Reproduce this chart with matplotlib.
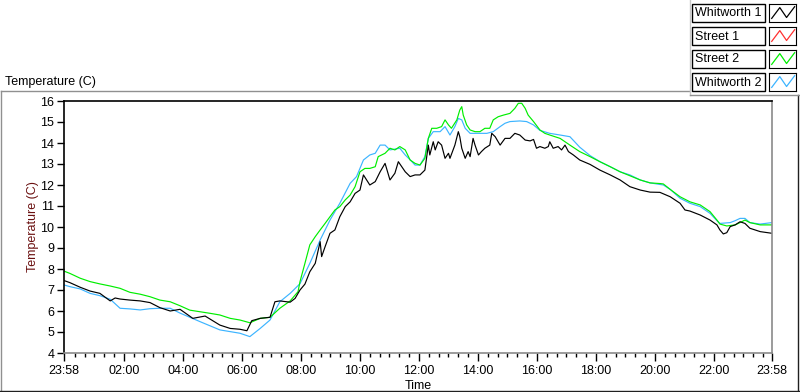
import matplotlib
matplotlib.use("Agg")
import matplotlib.pyplot as plt
from matplotlib.lines import Line2D
import numpy as np

# ---- data (minutes elapsed since 23:58, temperature in C) ----
w1_t = [0, 12, 33, 53, 73, 94, 104, 114, 134, 155, 175, 195, 216, 236, 256, 262, 287, 317, 338, 358,
        372, 382, 399, 419, 429, 439, 460, 470, 480, 490, 500, 511, 521, 524, 531, 541, 551, 561, 572,
        582, 592, 602, 609, 622, 633, 643, 653, 663, 673, 680, 694, 704, 714, 724, 734, 741, 744, 751,
        755, 761, 768, 775, 782, 785, 795, 802, 805, 809, 816, 822, 826, 832, 836, 843, 849, 856, 866,
        870, 877, 887, 897, 907, 917, 927, 938, 948, 955, 961, 968, 978, 985, 988, 995, 1005, 1012,
        1019, 1026, 1036, 1049, 1070, 1090, 1111, 1131, 1141, 1151, 1172, 1192, 1212, 1233, 1253, 1263,
        1273, 1294, 1314, 1328, 1334, 1341, 1348, 1355, 1365, 1375, 1385, 1395, 1416, 1440]
w1_v = [7.45, 7.35, 7.13, 6.95, 6.84, 6.48, 6.62, 6.57, 6.52, 6.48, 6.40, 6.16, 6.0, 6.08, 5.75, 5.65,
        5.76, 5.33, 5.17, 5.13, 5.06, 5.54, 5.65, 5.7, 6.44, 6.48, 6.42, 6.6, 7.0, 7.28, 7.87, 8.27, 9.3,
        8.59, 9.06, 9.7, 9.86, 10.49, 10.97, 11.2, 11.6, 11.76, 12.48, 12.0, 12.16, 12.63, 13.03, 12.24,
        12.56, 13.11, 12.63, 12.4, 12.48, 12.48, 12.71, 13.9, 13.43, 14.06, 13.67, 14.06, 13.9, 13.27,
        13.51, 13.27, 13.9, 14.54, 14.3, 13.75, 13.27, 13.59, 13.35, 14.22, 13.9, 13.43, 13.59, 13.75,
        13.9, 14.46, 14.3, 13.9, 14.22, 14.22, 14.46, 14.38, 14.14, 14.1, 14.17, 13.75, 13.83, 13.75,
        13.83, 14.06, 13.75, 13.83, 13.67, 13.9, 13.59, 13.43, 13.19, 12.98, 12.71, 12.48, 12.24, 12.08,
        11.92, 11.76, 11.66, 11.65, 11.44, 11.13, 10.81, 10.76, 10.57, 10.33, 10.1, 9.86, 9.67, 9.73,
        10.02, 10.1, 10.25, 10.17, 9.94, 9.78, 9.7]

s1_t = []
s1_v = []

s2_t = [0, 12, 33, 53, 73, 94, 114, 134, 155, 175, 195, 216, 236, 256, 297, 317, 338, 358, 378, 399,
        419, 439, 460, 476, 480, 490, 500, 511, 521, 531, 541, 551, 561, 572, 582, 592, 602, 612, 622,
        633, 639, 653, 663, 673, 683, 694, 704, 714, 724, 734, 741, 748, 758, 768, 775, 782, 788, 799,
        805, 809, 812, 819, 826, 836, 846, 856, 866, 873, 883, 894, 907, 917, 924, 931, 938, 944, 955,
        968, 978, 988, 1009, 1019, 1029, 1049, 1070, 1090, 1111, 1131, 1151, 1172, 1192, 1212, 1219,
        1233, 1253, 1273, 1294, 1314, 1328, 1334, 1348, 1365, 1375, 1385, 1395, 1416, 1440]
s2_v = [7.9, 7.79, 7.56, 7.4, 7.29, 7.19, 7.08, 6.89, 6.8, 6.68, 6.52, 6.44, 6.25, 6.04, 5.89, 5.81,
        5.65, 5.57, 5.44, 5.65, 5.7, 6.13, 6.48, 6.92, 7.4, 8.27, 9.15, 9.54, 9.86, 10.17, 10.49, 10.81,
        10.97, 11.29, 11.52, 11.92, 12.63, 12.79, 12.79, 12.87, 13.35, 13.51, 13.75, 13.67, 13.83, 13.67,
        13.19, 13.03, 12.95, 13.27, 14.22, 14.7, 14.7, 14.78, 15.1, 14.86, 14.7, 15.1, 15.57, 15.73,
        15.33, 14.86, 14.62, 14.54, 14.54, 14.7, 14.7, 15.1, 15.25, 15.33, 15.41, 15.65, 15.89, 15.89,
        15.65, 15.33, 15.02, 14.62, 14.46, 14.38, 14.22, 14.06, 13.9, 13.59, 13.35, 13.11, 12.87, 12.63,
        12.44, 12.24, 12.1, 12.07, 12.05, 11.79, 11.44, 11.2, 11.05, 10.73, 10.33, 10.14, 10.05, 10.1,
        10.21, 10.33, 10.21, 10.1, 10.1]

w2_t = [0, 12, 33, 53, 73, 94, 114, 134, 155, 175, 195, 216, 236, 256, 277, 317, 358, 378, 399, 419,
        439, 460, 480, 500, 521, 541, 561, 582, 595, 609, 622, 633, 643, 653, 663, 683, 694, 704, 714,
        724, 734, 741, 751, 765, 775, 785, 795, 802, 809, 816, 826, 846, 860, 873, 887, 897, 907, 927,
        941, 955, 968, 988, 1009, 1029, 1049, 1070, 1090, 1111, 1131, 1151, 1172, 1192, 1219, 1233,
        1253, 1273, 1294, 1314, 1328, 1334, 1355, 1365, 1375, 1385, 1395, 1416, 1440]
w2_v = [7.24, 7.16, 7.05, 6.84, 6.73, 6.56, 6.13, 6.1, 6.05, 6.11, 6.13, 6.13, 5.9, 5.7, 5.49, 5.1,
        4.94, 4.78, 5.17, 5.57, 6.44, 6.84, 7.3, 8.27, 9.38, 10.33, 11.13, 12.08, 12.4, 13.19, 13.43,
        13.51, 13.9, 13.9, 13.67, 13.75, 13.43, 13.2, 12.95, 12.95, 13.35, 14.22, 14.54, 14.54, 14.78,
        14.38, 14.78, 15.17, 15.1, 14.7, 14.46, 14.46, 14.46, 14.54, 14.78, 14.94, 15.02, 15.05, 15.02,
        14.86, 14.6, 14.46, 14.38, 14.3, 13.8, 13.4, 13.11, 12.87, 12.63, 12.48, 12.24, 12.1, 12.0,
        11.79, 11.37, 11.13, 10.97, 10.65, 10.3, 10.17, 10.21, 10.3, 10.41, 10.41, 10.21, 10.14, 10.21]

names = ["Whitworth 1", "Street 1", "Street 2", "Whitworth 2"]
colors = ["#000000", "#ff3030", "#00ee00", "#3cb4ff"]
x_tick_pos = [0, 122, 242, 362, 482, 602, 722, 842, 962, 1082, 1202, 1322, 1440]
x_tick_lab = ["23:58", "02:00", "04:00", "06:00", "08:00", "10:00", "12:00", "14:00",
              "16:00", "18:00", "20:00", "22:00", "23:58"]
y_ticks = list(range(4, 17))

plt.rcParams['font.family'] = ['Liberation Sans', 'DejaVu Sans']
FS = 9
W, H = 800, 392
fig = plt.figure(figsize=(W / 100, H / 100), dpi=100)

def fx(px):
    return px / W

def fy(py):
    return 1 - py / H

ax = fig.add_axes([fx(64), fy(353), fx(772) - fx(64), fy(101) - fy(353)])
series = [(w2_t, w2_v, 3), (s2_t, s2_v, 2), (s1_t, s1_v, 1), (w1_t, w1_v, 0)]
for t, v, i in series:
    ax.plot(t, v, color=colors[i], lw=0.85)

ax.set_xlim(0, 1440)
ax.set_ylim(4, 16)
ax.set_xticks(x_tick_pos)
ax.set_xticklabels(x_tick_lab)
minor = [m for m in range(22, 1440, 20) if m not in x_tick_pos]
ax.set_xticks(minor, minor=True)
ax.set_yticks(y_ticks)
ax.tick_params(axis='x', which='major', length=6, width=1, labelsize=FS, pad=3, color='black')
ax.tick_params(axis='x', which='minor', length=3, width=1, color='black')
ax.tick_params(axis='y', which='major', length=5, width=1, labelsize=FS, pad=2, color='black')
for s in ['left', 'top']:
    ax.spines[s].set_color('black')
    ax.spines[s].set_linewidth(1.2)
for s in ['right', 'bottom']:
    ax.spines[s].set_color('#8a8a8a')
    ax.spines[s].set_linewidth(1.2)
ax.set_xlabel("Time", fontsize=FS, labelpad=1.5)
ax.set_ylabel("Temperature (C)", fontsize=FS, color='#6a1010', labelpad=1)

fig.text(fx(5), fy(82), "Temperature (C)", fontsize=FS, va='center', ha='left')

# outer frame lines
def fline(x0, y0, x1, y1, c, lw=1.0):
    fig.add_artist(Line2D([fx(x0), fx(x1)], [fy(y0), fy(y1)], color=c, lw=lw,
                          transform=fig.transFigure))

fline(0.5, 91, 690, 91, '#909090')
fline(0.5, 91, 0.5, 391, '#909090')
fline(0, 390.5, 800, 390.5, '#202020')
fline(797.5, 95, 797.5, 391, '#202020')
fline(690, 0, 690, 95, '#c8c8c8')
fline(690, 95, 800, 95, '#909090')

# legend
icon_x = [0.1, 0.4, 0.65, 0.95]
icon_y = [0.2, 0.8, 0.25, 0.85]
row_tops = [4, 27, 50, 73]
for name, col, top in zip(names, colors, row_tops):
    fig.text(fx(695), fy(top + 9.5), name, fontsize=FS, va='center', ha='left')
    fig.add_artist(plt.Rectangle((fx(692), fy(top + 18)), fx(765) - fx(692), fy(top) - fy(top + 18),
                                 fill=False, ec='black', lw=1, transform=fig.transFigure))
    iax = fig.add_axes([fx(769), fy(top + 18), fx(796) - fx(769), fy(top) - fy(top + 18)])
    iax.plot(icon_x, icon_y, color=col, lw=0.9)
    iax.set_xlim(0, 1)
    iax.set_ylim(0, 1)
    iax.set_xticks([])
    iax.set_yticks([])
    for s in iax.spines.values():
        s.set_color('black')

fig.savefig("out.png", dpi=100)
